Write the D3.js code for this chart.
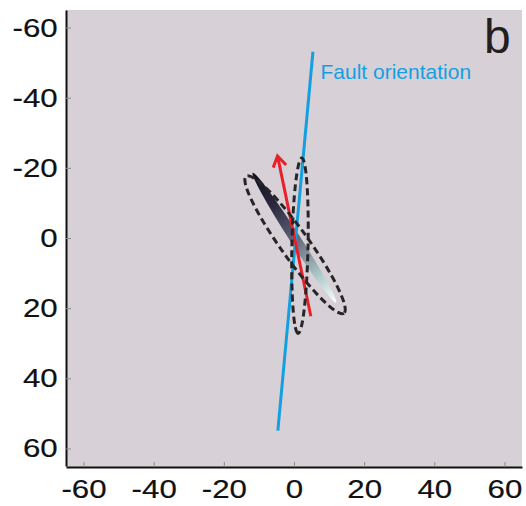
<!DOCTYPE html>
<html>
<head>
<meta charset="utf-8">
<script src="https://cdn.jsdelivr.net/npm/d3@7"></script>
<style>
  html, body { margin: 0; padding: 0; background: #ffffff; }
  svg { display: block; }
  text { font-family: "Liberation Sans", Arial, Helvetica, sans-serif; }
</style>
</head>
<body>
<svg id="chart" width="526" height="506"></svg>
<script>
// Axis ticks (map view, metres; y grows downward)
const xTicks = [-60, -40, -20, 0, 20, 40, 60];
const yTicks = [-60, -40, -20, 0, 20, 40, 60];
const axisDomain = [-65, 65];

// Fault trace end points [x, y]
const faultLine = [[-4.6, 54.9], [5.4, -53.1]];
// Slip direction arrow: tail, head [x, y]
const slipArrow = [[4.8, 22.3], [-4.7, -23.4]];

// Slip patch (shaded) : centre, semi-axes, rotation in degrees
const patchCentre = [0.1, -0.1];
const patchAxes = [22, 1.5];
const patchAngle = 57.3;

// Confidence ellipses (dashed): centres, semi-axes, rotations
const ellipseCentres = [[0.3, 1.9], [1.7, 2.2]];
const ellipseAxes = [[24, 4.0], [25, 2.3]];
const ellipseAngles = [54.5, 91.2];

// Shading stops along the slip patch
const patchStops = [
  [0.00, "#121120"],
  [0.25, "#2a293e"],
  [0.45, "#53546a"],
  [0.62, "#7f8c98"],
  [0.78, "#a9c6c6"],
  [0.90, "#d4e6e4"],
  [1.00, "#ffffff"]
];

const labelText = "Fault orientation";
const labelPos = [7.55, -45.2];
const panelLetter = "b";

const svg = d3.select("#chart");

const x = d3.scaleLinear().domain(axisDomain).range([66, 522]);
const y = d3.scaleLinear().domain(axisDomain).range([10, 466]);
const k = x(1) - x(0); // pixels per metre (same on both axes)

const defs = svg.append("defs");

// plot background
svg.append("rect")
  .attr("x", x(axisDomain[0]))
  .attr("y", y(axisDomain[0]))
  .attr("width", x(axisDomain[1]) - x(axisDomain[0]))
  .attr("height", y(axisDomain[1]) - y(axisDomain[0]) + 1)
  .attr("fill", "#d7d0d7");

// shaded slip patch
const grad = defs.append("linearGradient")
  .attr("id", "patchGrad")
  .attr("x1", 0).attr("y1", 0).attr("x2", 1).attr("y2", 0);
grad.selectAll("stop").data(patchStops).join("stop")
  .attr("offset", d => d[0])
  .attr("stop-color", d => d[1]);

svg.append("ellipse")
  .attr("transform", `translate(${x(patchCentre[0])},${y(patchCentre[1])}) rotate(${patchAngle})`)
  .attr("rx", patchAxes[0] * k)
  .attr("ry", patchAxes[1] * k)
  .attr("fill", "url(#patchGrad)");

// fault trace
svg.append("line")
  .attr("x1", x(faultLine[0][0])).attr("y1", y(faultLine[0][1]))
  .attr("x2", x(faultLine[1][0])).attr("y2", y(faultLine[1][1]))
  .attr("stroke", "#14a0e0")
  .attr("stroke-width", 3);

// slip arrow
defs.append("marker")
  .attr("id", "chev")
  .attr("markerUnits", "userSpaceOnUse")
  .attr("viewBox", "-16 -12 22 24")
  .attr("markerWidth", 22)
  .attr("markerHeight", 24)
  .attr("refX", 0).attr("refY", 0)
  .attr("orient", "auto")
  .append("path")
  .attr("d", "M-10.6,-6.6 L0,0 L-10.6,6.6")
  .attr("fill", "none")
  .attr("stroke", "#e8202a")
  .attr("stroke-width", 3);

svg.append("line")
  .attr("x1", x(slipArrow[0][0])).attr("y1", y(slipArrow[0][1]))
  .attr("x2", x(slipArrow[1][0])).attr("y2", y(slipArrow[1][1]))
  .attr("stroke", "#e8202a")
  .attr("stroke-width", 3)
  .attr("marker-end", "url(#chev)");

// dashed confidence ellipses
svg.selectAll("ellipse.conf")
  .data(ellipseCentres.map((c, i) => ({ c, ax: ellipseAxes[i], ang: ellipseAngles[i] })))
  .join("ellipse")
  .attr("class", "conf")
  .attr("transform", d => `translate(${x(d.c[0])},${y(d.c[1])}) rotate(${d.ang})`)
  .attr("rx", d => d.ax[0] * k)
  .attr("ry", d => d.ax[1] * k)
  .attr("fill", "none")
  .attr("stroke", "#262626")
  .attr("stroke-width", 3)
  .attr("stroke-dasharray", "7,4");

// axes
const fmt = d => String(d);
const stretch = 1.18;

const gy = svg.append("g")
  .attr("transform", `translate(${x(axisDomain[0])},0)`)
  .call(d3.axisLeft(y).tickValues(yTicks).tickFormat(fmt)
    .tickSize(-5).tickSizeOuter(0).tickPadding(7));

const gx = svg.append("g")
  .attr("transform", `translate(0,${y(axisDomain[1]) + 1})`)
  .call(d3.axisBottom(x).tickValues(xTicks).tickFormat(fmt)
    .tickSize(-5).tickSizeOuter(0).tickPadding(12));

[gx, gy].forEach(g => {
  g.select(".domain").attr("stroke", "#111").attr("stroke-width", 2);
  g.selectAll(".tick line").attr("stroke", "#8c8c8c").attr("stroke-width", 1);
  g.selectAll(".tick text")
    .attr("fill", "#111")
    .attr("stroke", "#111")
    .attr("stroke-width", 0.2)
    .style("font-size", "26.5px")
    .style("font-family", "'Liberation Sans', Arial, sans-serif")
    .attr("transform", `scale(${stretch},1)`);
});

// annotations
svg.append("text")
  .attr("x", x(labelPos[0]))
  .attr("y", y(labelPos[1]))
  .attr("fill", "#14a0e0")
  .style("font-size", "21px")
  .text(labelText);

svg.append("text")
  .attr("x", 484)
  .attr("y", 52.7)
  .attr("fill", "#231f20")
  .style("font-size", "48px")
  .text(panelLetter);
</script>
</body>
</html>
